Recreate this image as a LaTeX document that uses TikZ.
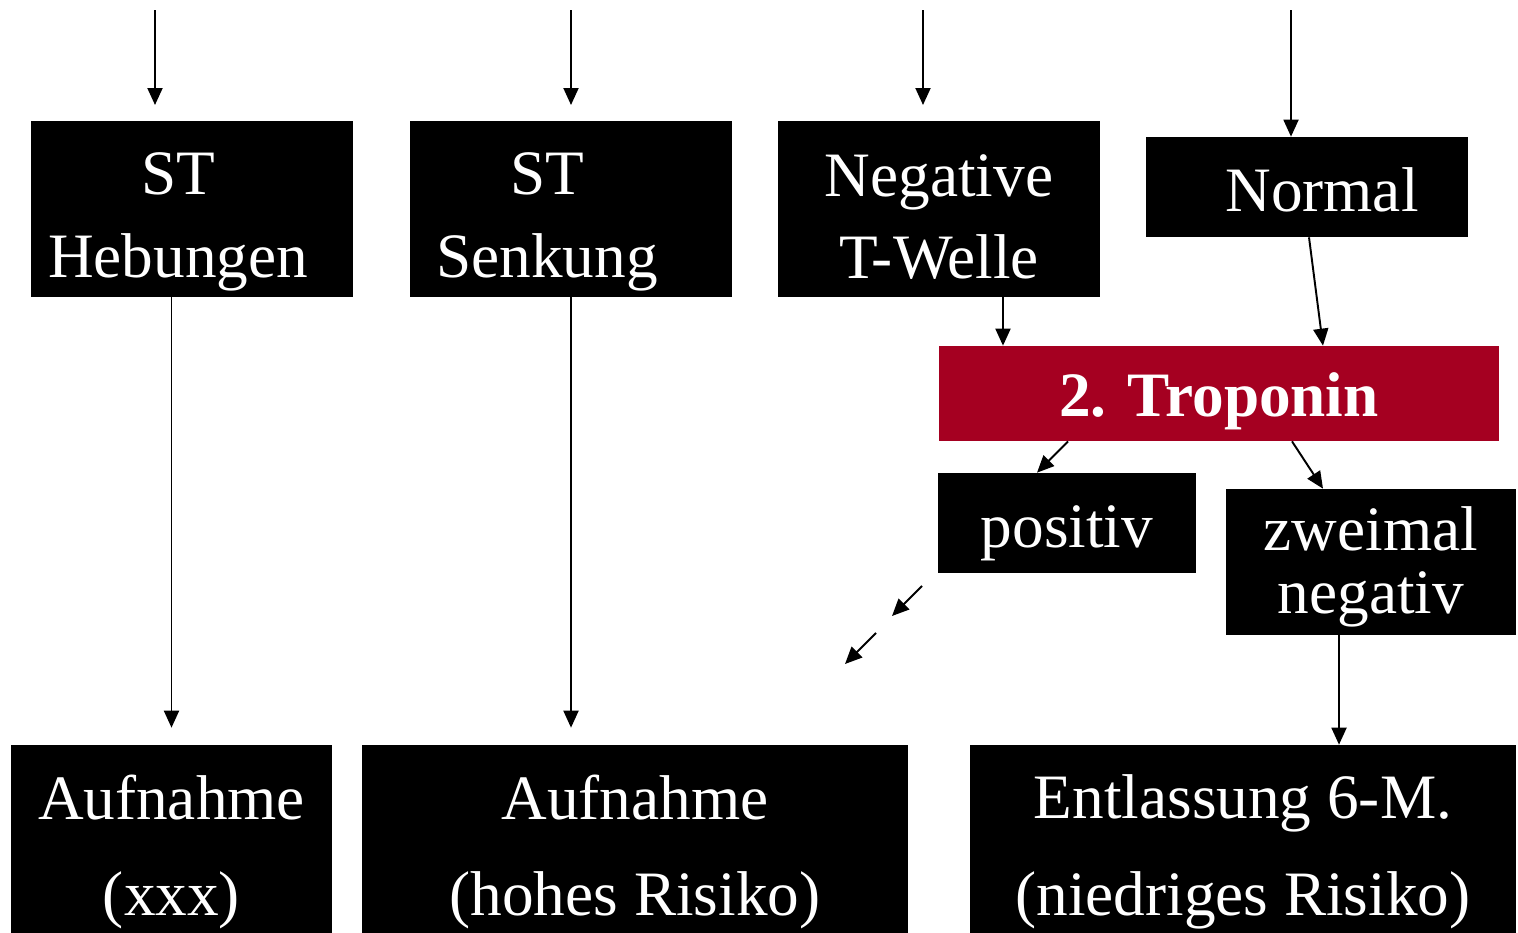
\documentclass[tikz,border=0pt]{standalone}
\usepackage{fontspec}
\setmainfont{Liberation Serif}
\usetikzlibrary{arrows.meta,positioning,calc}
\definecolor{tropred}{RGB}{165,0,33}

\begin{document}
\begin{tikzpicture}[x=0.02cm, y=-0.02cm,
  blk/.style={fill=black, inner sep=0pt},
  txt/.style={text=white, inner sep=0pt, align=center, font=\fontsize{36}{47}\selectfont},
  arr/.style={-{Triangle[length=0.34cm,width=0.3cm]}, line width=1.1pt}]
\clip (0,0) rectangle (1518,933);

% first row
\node[blk, minimum width=6.44cm, minimum height=3.52cm,
  label={[txt, shift={(-14,13)}]center:{ST\\Hebungen}}] (heb) at (192,209) {};
\node[blk, minimum width=6.44cm, minimum height=3.52cm,
  label={[txt, shift={(-24,13)}]center:{ST\\Senkung}}] (senk) at (571,209) {};
\node[blk, minimum width=6.44cm, minimum height=3.52cm,
  label={[txt, shift={(0,8)}]center:{Negative\\T-Welle}}] (neg) at (939,209) {};
\node[blk, minimum width=6.44cm, minimum height=2cm,
  label={[txt, shift={(15,3)}]center:Normal}] (norm) at (1307,187) {};

% troponin
\node[blk, fill=tropred, minimum width=11.2cm, minimum height=1.9cm,
  label={[txt, font=\fontsize{36}{47}\selectfont\bfseries, shift={(0,8)}]center:2. Troponin}] (trop) at (1219,393.5) {};
\node[blk, minimum width=5.16cm, minimum height=2cm,
  label={[txt, shift={(0,10)}]center:positiv}] (pos) at (1067,523) {};
\node[blk, minimum width=5.8cm, minimum height=2.92cm,
  label={[txt, font=\fontsize{36}{36}\selectfont, shift={(0,5)}]center:{zweimal\\negativ}}] (zwei) at (1371,562) {};

% bottom row
\node[blk, minimum width=6.42cm, minimum height=4.04cm,
  label={[txt, font=\fontsize{36}{55}\selectfont, shift={(0,6)}]center:{Aufnahme\\(xxx)}}] (auf1) at (171.5,846) {};
\node[blk, minimum width=10.92cm, minimum height=4.04cm,
  label={[txt, font=\fontsize{36}{55}\selectfont, shift={(0,6)}]center:{Aufnahme\\(hohes Risiko)}}] (auf2) at (635,846) {};
\node[blk, minimum width=10.92cm, minimum height=4.04cm,
  label={[txt, font=\fontsize{36}{55}\selectfont, shift={(0,6)}]center:{Entlassung 6-M.\\(niedriges Risiko)}}] (entl) at (1243,846) {};

% incoming arrows
\coordinate (in1) at (155,10);
\coordinate (in2) at (571,10);
\coordinate (in3) at (923,10);
\coordinate (in4) at (1291,10);
\draw[arr] (in1) -- (155,105);
\draw[arr] (in2) -- (571,105);
\draw[arr] (in3) -- (923,105);
\draw[arr] (in4) -- (in4 |- norm.north);

\draw[arr, shorten >=0.34cm] (auf1.north |- heb.south) -- (auf1.north);
\draw[arr, shorten >=0.34cm] (senk.south) -- (senk.south |- auf2.north);
\draw[arr] ([xshift=1.28cm]neg.south) -- ([xshift=1.28cm]neg.south |- trop.north);
\draw[arr] ([xshift=0.04cm]norm.south) -- ([xshift=2.08cm]trop.north);
\draw[arr] ([xshift=-3.02cm]trop.south) -- ([xshift=-0.6cm]pos.north);
\draw[arr] ([xshift=1.46cm]trop.south) -- ([xshift=-0.96cm]zwei.north);
\draw[arr] ([xshift=-0.64cm]zwei.south) -- ([xshift=-0.64cm]zwei.south |- entl.north);

% broken arrow from positiv
\coordinate (p1) at (922,586);
\coordinate (p2) at (892,616);
\coordinate (p3) at (876,633);
\coordinate (p4) at (845,664);
\draw[arr] (p1) -- (p2);
\draw[arr] (p3) -- (p4);
\end{tikzpicture}
\end{document}
